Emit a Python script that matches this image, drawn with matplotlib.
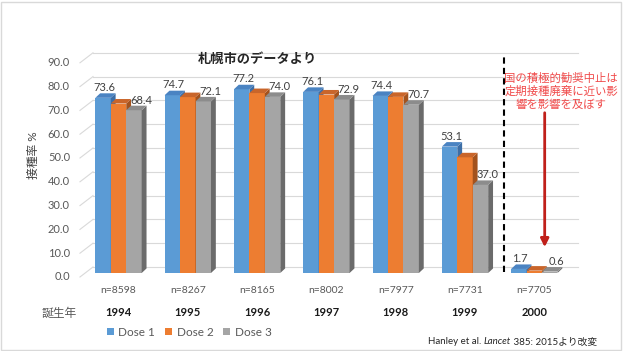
import numpy as np
import matplotlib.pyplot as plt
from matplotlib.patches import Polygon, Patch, Rectangle

plt.rcParams['font.family'] = ['Lato', 'Noto Sans CJK JP', 'DejaVu Sans']

# --- data ---
years = ['1994', '1995', '1996', '1997', '1998', '1999', '2000']
n_labels = ['n=8598', 'n=8267', 'n=8165', 'n=8002', 'n=7977', 'n=7731', 'n=7705']
dose1 = [73.6, 74.7, 77.2, 76.1, 74.4, 53.1, 1.7]
dose2 = [71.2, 73.9, 75.6, 75.0, 74.0, 48.6, 1.0]
dose3 = [68.4, 72.1, 74.0, 72.9, 70.7, 37.0, 0.6]
series_names = ['Dose 1', 'Dose 2', 'Dose 3']
yticks = np.arange(0, 91, 10)

front = ['#5b9bd5', '#ed7d31', '#a5a5a5']
tops = ['#4a83c2', '#c9652a', '#8c8c8c']
sides = ['#3d6ea6', '#a3521d', '#6b6b6b']

W, H = 625, 351
fig = plt.figure(figsize=(W / 100, H / 100), dpi=100)

# axes placed so that one x unit = 69.3 px and one y unit = 2.38 px
xlim = (-0.85, 6.9)
ylim = (-5, 95)
px_left = 118.5 + 69.3 * xlim[0]
px_right = 118.5 + 69.3 * xlim[1]
py_top = 273 - 2.38 * ylim[1]
py_bot = 273 - 2.38 * ylim[0]
ax = fig.add_axes([px_left / W, 1 - py_bot / H, (px_right - px_left) / W, (py_bot - py_top) / H])
ax.set_xlim(*xlim)
ax.set_ylim(*ylim)
ax.axis('off')

# --- fake 3D floor/back wall grid ---
gx0, gx1, gx_end = -0.556, -0.368, 6.63
back_dy, front_dy = 2.52, -1.68
for v in yticks:
    ax.plot([gx1, gx_end], [v + back_dy, v + back_dy], color='#d9d9d9', lw=0.8, zorder=1)
    ax.plot([gx0, gx1], [v + front_dy, v + back_dy], color='#d9d9d9', lw=0.8, zorder=1)
    ax.text(-0.70, v + front_dy, f'{v:.1f}', ha='right', va='center', fontsize=8,
            color='#595959')

# --- bars with depth ---
x = np.arange(len(years))
bw = 0.223
ddx, ddy = 0.07, 1.9
for i, vals in enumerate([dose1, dose2, dose3]):
    xs = x + (i - 1) * bw
    bars = ax.bar(xs, vals, width=bw, color=front[i], zorder=3 + i, linewidth=0)
    for b, v in zip(bars, vals):
        x0 = b.get_x()
        x1 = x0 + b.get_width()
        ax.add_patch(Polygon([(x1, 0), (x1 + ddx, ddy), (x1 + ddx, v + ddy), (x1, v)],
                             closed=True, color=sides[i], lw=0, zorder=3 + i))
        ax.add_patch(Polygon([(x0, v), (x1, v), (x1 + ddx, v + ddy), (x0 + ddx, v + ddy)],
                             closed=True, color=tops[i], lw=0, zorder=3 + i))

# value labels (dose 1 and dose 3 only)
for xi, v in zip(x - bw, dose1):
    ax.text(xi + 0.02, v + 4.4, f'{v:.1f}', ha='center', va='center', fontsize=8,
            color='#404040', zorder=10)
for xi, v in zip(x + bw, dose3):
    ax.text(xi + 0.1, v + 4.2, f'{v:.1f}', ha='center', va='center', fontsize=8,
            color='#404040', zorder=10)

# n= and year labels under groups
for xi, n, yr in zip(x, n_labels, years):
    ax.text(xi, -7.3, n, ha='center', va='center', fontsize=7.5, color='#595959', clip_on=False)
    ax.text(xi, -16.6, yr, ha='center', va='center', fontsize=8, fontweight='bold',
            color='#1a1a1a', clip_on=False)

# dashed separator before 2000
ax.plot([5.56, 5.56], [0.4, 91.2], color='black', lw=1.5, ls=(0, (3, 2)), zorder=6)

# red arrow and note
ax.annotate('', xy=(6.15, 9.7), xytext=(6.15, 68.5),
            arrowprops=dict(arrowstyle='-|>', color='#c0201a', lw=2, mutation_scale=12),
            zorder=7)
note = ['国の積極的勧奨中止は', '定期接種廃棄に近い影', '響を影響を及ぼす']
for k, line in enumerate(note):
    ax.text(6.39, 81.9 - k * 5.6, line, ha='center', va='center', fontsize=8.2,
            color='#f04a4a', clip_on=False)

# titles and axis texts
fig.text(257 / W, 1 - 59 / H, '札幌市のデータより', ha='center', va='center', fontsize=9.5,
         fontweight='bold', color='#262626')
fig.text(33 / W, 1 - 155 / H, '接種率 %', rotation=90, ha='center', va='center',
         fontsize=8.5, color='#404040')
fig.text(59 / W, 1 - 313 / H, '誕生年', ha='center', va='center', fontsize=8.5,
         color='#595959')

handles = [Patch(facecolor=c, edgecolor='none') for c in front]
fig.legend(handles, series_names, loc='center left', bbox_to_anchor=(96 / W, 1 - 332 / H),
           ncol=3, frameon=False, fontsize=8.5, handlelength=0.6, handleheight=0.6,
           columnspacing=0.8, handletextpad=0.4, labelcolor='#595959')

# source note, written piece by piece so only "Lancet" is italic
renderer = fig.canvas.get_renderer()
cx = 428
for part, style in [('Hanley et al.\u00a0', 'normal'), ('Lancet', 'italic'),
                    ('\u00a0385: 2015より改変', 'normal')]:
    t = fig.text(cx / W, 1 - 342 / H, part, ha='left', va='center', fontsize=7.0,
                 fontstyle=style, color='#262626')
    cx += t.get_window_extent(renderer).width

# slide frame
fig.patches.append(Rectangle((1.5 / W, 1.5 / H), 619.5 / W, 347.5 / H, transform=fig.transFigure,
                             fill=False, edgecolor='#d9d9d9', lw=1))

fig.savefig('out.png', dpi=100)
